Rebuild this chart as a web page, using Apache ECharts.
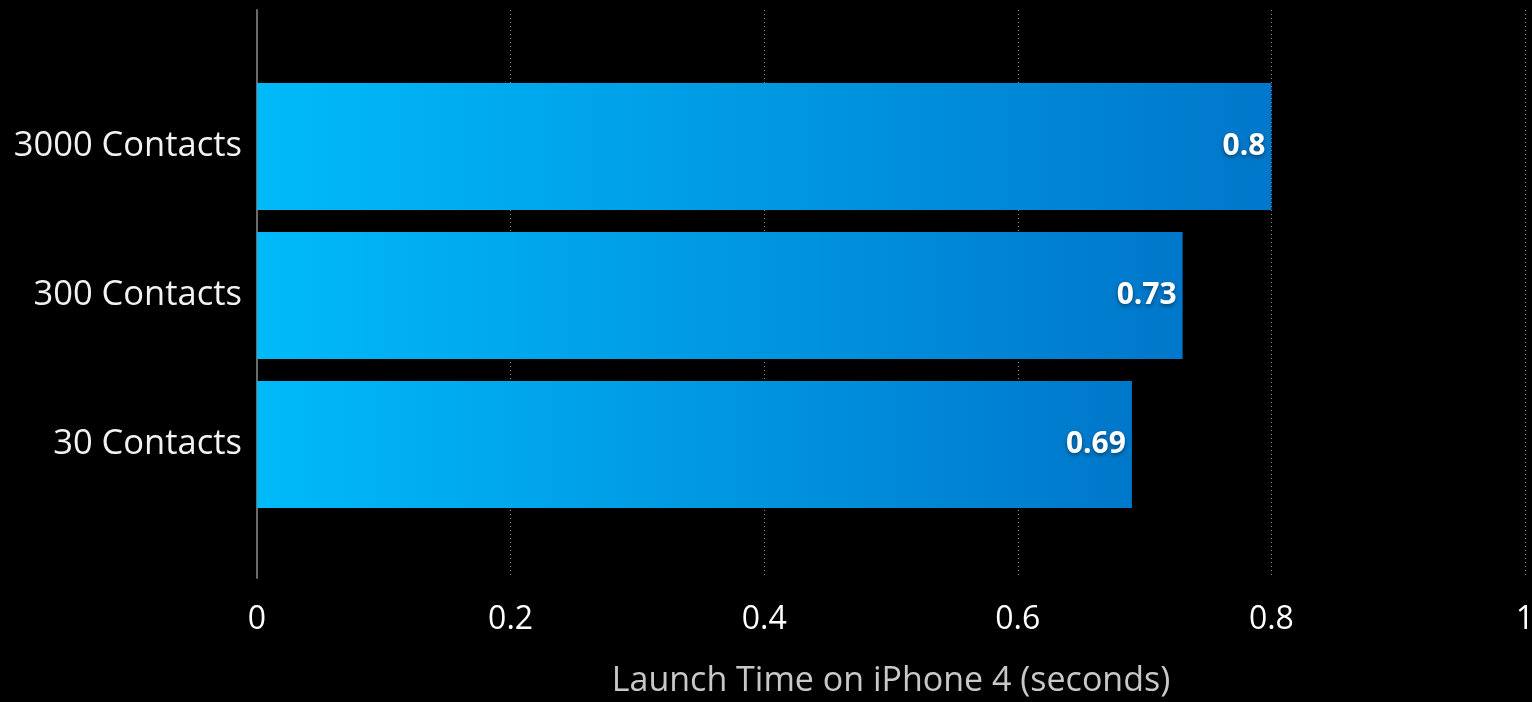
<!DOCTYPE html>
<html>
<head>
<meta charset="utf-8">
<script src="https://cdn.jsdelivr.net/npm/echarts@6/dist/echarts.min.js"></script>
<style>
html,body{margin:0;padding:0;background:#000;}
#c{width:1532px;height:702px;}
</style>
</head>
<body>
<div id="c"></div>
<script>
const categories = ['30 Contacts', '300 Contacts', '3000 Contacts'];
const launchTimes = [0.69, 0.73, 0.8];
const xTicks = [0, 0.2, 0.4, 0.6, 0.8, 1];
const axisTitle = 'Launch Time on iPhone 4 (seconds)';

const FONT = '"Open Sans", "Noto Sans", sans-serif';
const chart = echarts.init(document.getElementById('c'));
const grad = new echarts.graphic.LinearGradient(0, 0, 1, 0, [
  { offset: 0, color: '#00baf9' },
  { offset: 1, color: '#0077ca' }
]);
chart.setOption({
  backgroundColor: '#000',
  animation: false,
  grid: [
    { left: 257, right: 7, top: 10, bottom: 124, outerBoundsMode: 'none', containLabel: false },
    { left: 257, right: 7, top: 72, bottom: 183, outerBoundsMode: 'none', containLabel: false }
  ],
  xAxis: [
    {
      gridIndex: 0, type: 'value', min: xTicks[0], max: xTicks[xTicks.length - 1], interval: 0.2,
      axisLine: { show: false }, axisTick: { show: false },
      splitLine: { show: true, lineStyle: { color: '#8a8a8a', type: [1, 3], width: 1 } },
      axisLabel: {
        color: '#ffffff', fontSize: 32, fontFamily: FONT, margin: 26,
        formatter: v => String(+v.toFixed(1))
      },
      name: axisTitle, nameLocation: 'middle', nameGap: 86,
      nameTextStyle: { color: '#c8c8c8', fontSize: 34, fontFamily: FONT }
    },
    {
      gridIndex: 1, type: 'value', min: xTicks[0], max: xTicks[xTicks.length - 1],
      show: false
    }
  ],
  yAxis: [
    {
      gridIndex: 0, type: 'value', min: 0, max: 1,
      axisLine: { show: true, lineStyle: { color: '#6a6a6a', width: 2 } },
      axisTick: { show: false }, axisLabel: { show: false }, splitLine: { show: false }
    },
    {
      gridIndex: 1, type: 'category', data: categories,
      axisLine: { show: false }, axisTick: { show: false },
      axisLabel: { color: '#f2f2f2', fontSize: 34.5, fontFamily: FONT, margin: 15 }
    }
  ],
  series: [{
    type: 'bar', xAxisIndex: 1, yAxisIndex: 1,
    data: launchTimes,
    barWidth: 127,
    itemStyle: { color: grad },
    label: {
      show: true, position: 'insideRight', distance: 6,
      color: '#ffffff', fontSize: 30, fontWeight: 'bold', fontFamily: FONT,
      textShadowColor: 'rgba(0,0,0,0.45)', textShadowBlur: 4, textShadowOffsetY: 2,
      formatter: p => String(p.value)
    }
  }]
});
</script>
</body>
</html>
